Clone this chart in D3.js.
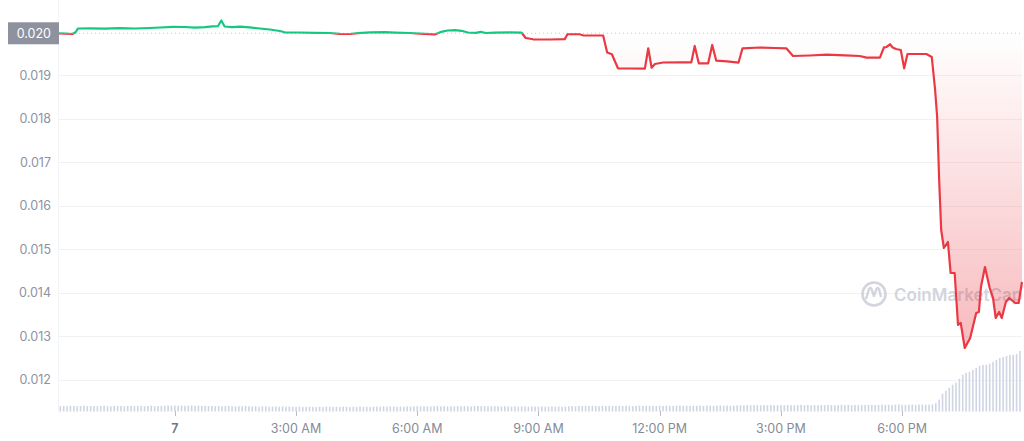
<!DOCTYPE html>
<html>
<head>
<meta charset="utf-8">
<script src="https://cdn.jsdelivr.net/npm/d3@7"></script>
<style>
  html, body { margin: 0; padding: 0; background: #fff; }
  svg { display: block; font-family: Inter, "Noto Sans", sans-serif; }
</style>
</head>
<body>
<svg id="chart" width="1024" height="441"></svg>
<script>
// ---- price series (day HH:MM, price in USD) ----
const times = [
  "06 21:08","06 21:18","06 21:28","06 21:33","06 21:36","06 21:54","06 22:16","06 22:38","06 23:01","06 23:23",
  "06 23:38","06 23:57","07 00:15","07 00:30","07 00:45","07 00:56","07 01:04","07 01:09","07 01:14","07 01:25",
  "07 01:37","07 01:51","07 02:06","07 02:21","07 02:36","07 02:43","07 03:06","07 03:28","07 03:50","07 04:05",
  "07 04:20","07 04:32","07 04:50","07 05:12","07 05:27","07 05:49","07 06:04","07 06:19","07 06:26","07 06:34",
  "07 06:45","07 06:56","07 07:06","07 07:15","07 07:27","07 07:34","07 07:42","07 07:55","07 08:17","07 08:35",
  "07 08:41","07 08:52","07 09:17","07 09:39","07 09:43","07 10:01","07 10:06","07 10:36","07 10:42","07 10:49",
  "07 10:58","07 11:16","07 11:38","07 11:43","07 11:48","07 11:53","07 12:05","07 12:30","07 12:47","07 12:52",
  "07 12:58","07 13:12","07 13:18","07 13:24","07 13:40","07 13:57","07 14:03","07 14:29","07 14:51","07 15:08",
  "07 15:18","07 15:43","07 16:08","07 16:35","07 16:57","07 17:07","07 17:27","07 17:33","07 17:37","07 17:42",
  "07 17:46","07 17:51","07 17:58","07 18:03","07 18:08","07 18:36","07 18:44","07 18:49","07 18:52","07 18:55",
  "07 18:58","07 19:02","07 19:08","07 19:12","07 19:18","07 19:23","07 19:27","07 19:33","07 19:41","07 19:50",
  "07 19:54","07 19:57","07 20:03","07 20:10","07 20:15","07 20:19","07 20:24","07 20:28","07 20:34","07 20:39",
  "07 20:48","07 20:53","07 20:58"
];
const prices = [
  0.019966,0.019959,0.019949,0.019995,0.020076,0.020080,0.020074,0.020083,0.020076,0.020087,
  0.020099,0.020115,0.020110,0.020097,0.020106,0.020124,0.020129,0.020260,0.020122,0.020106,
  0.020120,0.020103,0.020076,0.020053,0.020018,0.019989,0.019984,0.019977,0.019972,0.019954,
  0.019949,0.019968,0.019986,0.019991,0.019982,0.019972,0.019959,0.019945,0.019940,0.019991,
  0.020030,0.020037,0.020023,0.019984,0.019977,0.020000,0.019972,0.019982,0.019986,0.019979,
  0.019857,0.019828,0.019823,0.019830,0.019945,0.019945,0.019920,0.019915,0.019524,0.019483,
  0.019161,0.019156,0.019152,0.019621,0.019175,0.019260,0.019294,0.019299,0.019299,0.019674,
  0.019276,0.019276,0.019697,0.019336,0.019322,0.019290,0.019621,0.019639,0.019628,0.019621,
  0.019444,0.019455,0.019474,0.019457,0.019444,0.019405,0.019405,0.019644,0.019651,0.019713,
  0.019639,0.019605,0.019582,0.019161,0.019490,0.019490,0.019421,0.018662,0.018041,0.016593,
  0.015444,0.015030,0.015168,0.014455,0.014455,0.013260,0.013306,0.012731,0.012961,0.013536,
  0.013559,0.014133,0.014593,0.014110,0.013880,0.013421,0.013559,0.013421,0.013789,0.013880,
  0.013766,0.013766,0.014248
];

// ---- volume bars (5-minute buckets starting at volumeStart) ----
const volumeStart = "06 21:10";
const volumeStepMinutes = 5;
const volume = [
  5.4,5.6,5.2,5.8,5.5,5.3,5.6,5.9,5.4,5.5,
  5.6,5.3,5.5,5.8,5.4,5.2,5.6,5.5,5.7,5.3,5.5,5.6,
  5.4,5.7,5.5,5.3,5.6,5.8,5.4,5.5,5.6,5.9,6.0,5.8,
  6.1,5.8,6.0,5.7,5.9,6.2,5.6,5.8,5.5,5.7,5.4,5.6,
  5.3,5.5,5.2,5.4,5.6,5.3,5.1,5.4,5.2,5.5,5.3,5.0,
  5.2,4.9,5.1,5.3,4.8,5.0,5.2,4.9,5.1,4.8,5.0,4.9,
  4.7,4.9,4.6,4.8,5.0,4.7,4.5,4.8,4.6,4.9,4.7,4.6,
  4.8,4.6,4.9,4.7,4.5,4.8,4.6,4.9,4.7,4.8,4.6,4.9,
  5.0,4.8,5.1,4.9,5.2,5.0,4.8,5.1,4.9,5.2,5.0,5.1,
  5.3,5.1,5.4,5.2,5.0,5.3,5.5,5.2,5.4,5.1,5.3,5.2,
  5.4,5.2,5.5,5.3,5.1,5.4,5.6,5.3,5.5,5.2,5.4,5.3,
  5.2,5.0,5.3,5.1,4.9,5.2,5.0,5.3,5.1,4.9,5.2,5.0,
  4.9,5.1,4.8,5.0,5.2,4.9,5.1,4.8,5.0,5.3,5.5,5.2,
  5.6,5.4,5.7,5.5,5.8,5.6,5.4,5.7,5.5,5.8,5.6,5.5,
  5.7,5.5,5.8,5.6,5.4,5.7,5.9,5.6,5.8,5.5,5.7,5.6,
  5.8,5.6,5.9,5.7,5.5,5.8,6.0,5.7,5.9,5.6,5.8,5.7,
  5.9,5.7,6.0,5.8,5.6,5.9,6.1,5.8,6.0,5.7,5.9,6.2,
  6.4,6.2,6.5,6.3,6.6,6.4,6.2,6.5,6.3,6.6,6.4,6.3,
  6.5,6.3,6.6,6.4,6.2,6.5,6.7,6.4,6.6,6.3,6.5,6.4,
  6.6,6.4,6.7,6.5,6.3,6.6,6.8,6.5,6.7,6.4,6.6,6.5,
  6.7,6.5,6.8,6.6,6.4,6.7,6.9,6.6,6.8,6.5,7.0,7.2,
  6.8,6.6,6.9,7.0,6.7,6.9,7.1,6.8,7.0,7.2,8.5,
  12,18,21,24,27,29,33,37,39,40,42,44,46,47,47,48,50,52,54,55,56,57,57,58,61
];

// ---- axis ticks ----
const yTicks = [0.019, 0.018, 0.017, 0.016, 0.015, 0.014, 0.013, 0.012];
const xTickHours = 3;
const watermark = "CoinMarketCap";

// ---------------------------------------------------------------
const parse = d3.timeParse("%d %H:%M");
const data = times.map((t, i) => ({ t: parse(t), p: prices[i] }));
const vStart = parse(volumeStart);
const vData = volume.map((v, i) => ({ t: d3.timeMinute.offset(vStart, i * volumeStepMinutes), v }));

const svg = d3.select("#chart");
const left = 59, right = 1022;

const x = d3.scaleTime().domain(d3.extent(data, d => d.t)).range([left, right]);
const y = d3.scaleLinear().domain([0.012, 0.019]).range([379.8, 75.3]);
const yVol = d3.scaleLinear().domain([0, 62]).range([411.5, 350]);

const basePrice = prices[0];
const baseY = y(basePrice);

const defs = svg.append("defs");
defs.append("clipPath").attr("id", "clipUp")
  .append("rect").attr("x", 0).attr("y", 0).attr("width", 1024).attr("height", baseY);
defs.append("clipPath").attr("id", "clipDown")
  .append("rect").attr("x", 0).attr("y", baseY).attr("width", 1024).attr("height", 441 - baseY);

const gRed = defs.append("linearGradient").attr("id", "gradRed")
  .attr("gradientUnits", "userSpaceOnUse").attr("x1", 0).attr("x2", 0)
  .attr("y1", baseY).attr("y2", y(0.0125));
gRed.append("stop").attr("offset", 0).attr("stop-color", "#ea3943").attr("stop-opacity", 0.0);
gRed.append("stop").attr("offset", 1).attr("stop-color", "#ea3943").attr("stop-opacity", 0.36);

const gGreen = defs.append("linearGradient").attr("id", "gradGreen")
  .attr("gradientUnits", "userSpaceOnUse").attr("x1", 0).attr("x2", 0)
  .attr("y1", baseY).attr("y2", baseY - 20);
gGreen.append("stop").attr("offset", 0).attr("stop-color", "#16c784").attr("stop-opacity", 0.0);
gGreen.append("stop").attr("offset", 1).attr("stop-color", "#16c784").attr("stop-opacity", 0.12);

// grid
svg.append("g").selectAll("line").data(yTicks).join("line")
  .attr("x1", left).attr("x2", right)
  .attr("y1", d => Math.round(y(d)) + 0.5).attr("y2", d => Math.round(y(d)) + 0.5)
  .attr("stroke", "#f1f2f5").attr("stroke-width", 1);
svg.append("line").attr("x1", left - 0.5).attr("x2", left - 0.5).attr("y1", 0).attr("y2", 412)
  .attr("stroke", "#f3f4f6");

// volume bars
svg.append("g").selectAll("rect").data(vData).join("rect")
  .attr("x", d => x(d.t) - 0.8).attr("width", 1.6)
  .attr("y", d => yVol(d.v)).attr("height", d => yVol(0) - yVol(d.v))
  .attr("fill", "#cfd5e2");

// watermark
const wm = svg.append("g").attr("opacity", 0.75);
wm.append("circle").attr("cx", 874).attr("cy", 294).attr("r", 11.5)
  .attr("fill", "none").attr("stroke", "#c4c8d2").attr("stroke-width", 2.6);
wm.append("path")
  .attr("d", "M866,299 L869,289 Q870,287 871.5,289 L874,296 L876.5,289 Q878,287 879,289 L881,297")
  .attr("fill", "none").attr("stroke", "#c4c8d2").attr("stroke-width", 2.4).attr("stroke-linejoin", "round");
wm.append("text").attr("x", 894).attr("y", 301).text(watermark)
  .attr("font-size", 17).attr("font-weight", 600).attr("fill", "#c4c8d2");

// areas
const area = d3.area().x(d => x(d.t)).y0(baseY).y1(d => y(d.p));
svg.append("path").datum(data).attr("d", area).attr("fill", "url(#gradRed)").attr("clip-path", "url(#clipDown)");
svg.append("path").datum(data).attr("d", area).attr("fill", "url(#gradGreen)").attr("clip-path", "url(#clipUp)");

// baseline dotted
svg.append("line").attr("x1", left).attr("x2", right).attr("y1", baseY).attr("y2", baseY)
  .attr("stroke", "#c3c7cf").attr("stroke-width", 1).attr("stroke-dasharray", "1,3");

// lines
const line = d3.line().x(d => x(d.t)).y(d => y(d.p));
svg.append("path").datum(data).attr("d", line).attr("fill", "none")
  .attr("stroke", "#ea3943").attr("stroke-width", 2.2).attr("stroke-linejoin", "round")
  .attr("clip-path", "url(#clipDown)");
svg.append("path").datum(data).attr("d", line).attr("fill", "none")
  .attr("stroke", "#16c784").attr("stroke-width", 2.2).attr("stroke-linejoin", "round")
  .attr("clip-path", "url(#clipUp)");

// y labels
svg.append("g").selectAll("text").data(yTicks).join("text")
  .attr("x", 51).attr("y", d => y(d)).attr("dy", "0.36em")
  .attr("text-anchor", "end").attr("font-size", 12.5).attr("fill", "#8d939f")
  .text(d => d3.format(".3f")(d));

// base price label box
svg.append("rect").attr("x", 8).attr("y", baseY - 11).attr("width", 51).attr("height", 22)
  .attr("fill", "#8e929f");
svg.append("text").attr("x", 51).attr("y", baseY).attr("dy", "0.36em").attr("text-anchor", "end")
  .attr("font-size", 12.5).attr("fill", "#ffffff").text(d3.format(".3f")(basePrice));

// x axis
const xTicks = x.ticks(d3.timeHour.every(xTickHours));
const fmtDay = d3.timeFormat("%-d"), fmtHour = d3.timeFormat("%-I:%M %p");
const xg = svg.append("g");
xg.selectAll("line").data(xTicks).join("line")
  .attr("x1", d => Math.round(x(d)) + 0.5).attr("x2", d => Math.round(x(d)) + 0.5)
  .attr("y1", 411).attr("y2", 416).attr("stroke", "#b8bdc8");
xg.selectAll("text").data(xTicks).join("text")
  .attr("x", d => x(d)).attr("y", 428).attr("dy", "0.36em").attr("text-anchor", "middle")
  .attr("font-size", 12.5)
  .attr("font-weight", d => d.getHours() === 0 ? 600 : 400)
  .attr("fill", d => d.getHours() === 0 ? "#6f7685" : "#858b98")
  .text(d => d.getHours() === 0 ? fmtDay(d) : fmtHour(d));
</script>
</body>
</html>
